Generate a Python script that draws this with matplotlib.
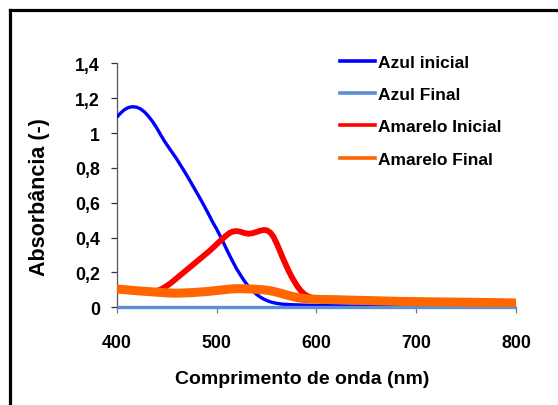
import matplotlib
matplotlib.use("Agg")
import matplotlib.pyplot as plt
from matplotlib.lines import Line2D

plt.rcParams['font.family'] = ['Liberation Sans', 'DejaVu Sans']
plt.rcParams['font.weight'] = 'bold'

# Azul inicial
azul_ini_x = [400, 404, 408, 412, 416, 420, 424, 428, 432, 436, 440, 444, 448, 452, 456, 460, 464, 468,
              472, 476, 480, 484, 488, 492, 496, 500, 504, 508, 512, 516, 520, 524, 528, 532, 536, 540,
              544, 548, 552, 556, 560, 566, 575, 590, 600, 650, 700, 800]
azul_ini_y = [1.09, 1.115, 1.135, 1.147, 1.151, 1.148, 1.138, 1.12, 1.095, 1.065, 1.03, 0.99, 0.952,
              0.918, 0.885, 0.852, 0.815, 0.778, 0.74, 0.70, 0.66, 0.62, 0.578, 0.535, 0.49, 0.45,
              0.405, 0.358, 0.31, 0.265, 0.222, 0.185, 0.15, 0.12, 0.095, 0.075, 0.058, 0.045, 0.035,
              0.028, 0.023, 0.018, 0.015, 0.012, 0.010, 0.007, 0.005, 0.003]

# Azul Final
azul_fin_x = [400, 500, 600, 700, 800]
azul_fin_y = [0.0, 0.0, 0.0, 0.0, 0.0]

# Amarelo Inicial
amar_ini_x = [400, 420, 436, 442, 446, 450, 454, 458, 462, 466, 470, 474, 478, 482, 486, 490, 494, 498,
              502, 506, 510, 513, 516, 519, 522, 525, 528, 532, 536, 540, 544, 548, 551, 554, 557, 560,
              563, 566, 569, 572, 575, 578, 581, 584, 588, 592, 596, 600, 620, 650, 700, 750, 800]
amar_ini_y = [0.10, 0.092, 0.09, 0.097, 0.108, 0.122, 0.138, 0.157, 0.176, 0.195, 0.214, 0.233, 0.252,
              0.271, 0.29, 0.309, 0.329, 0.35, 0.372, 0.393, 0.413, 0.426, 0.434, 0.437, 0.436, 0.432,
              0.426, 0.422, 0.425, 0.432, 0.44, 0.444, 0.44, 0.428, 0.405, 0.37, 0.33, 0.288, 0.25,
              0.212, 0.178, 0.148, 0.12, 0.098, 0.075, 0.062, 0.055, 0.05, 0.043, 0.038, 0.033, 0.029,
              0.025]

# Amarelo Final
amar_fin_x = [400, 410, 420, 430, 440, 450, 458, 466, 474, 482, 490, 498, 506, 514, 522, 530, 538, 546,
              552, 558, 564, 570, 576, 582, 588, 594, 605, 617, 635, 650, 683, 720, 750, 800]
amar_fin_y = [0.105, 0.1, 0.095, 0.091, 0.087, 0.083, 0.081, 0.082, 0.084, 0.087, 0.09, 0.095, 0.1,
              0.105, 0.107, 0.106, 0.104, 0.101, 0.097, 0.09, 0.081, 0.071, 0.062, 0.054, 0.05, 0.047,
              0.045, 0.044, 0.041, 0.039, 0.034, 0.031, 0.029, 0.025]

labels = ['Azul inicial', 'Azul Final', 'Amarelo Inicial', 'Amarelo Final']
colors = ['#0000ff', '#5b8fd6', '#ff0000', '#ff6600']
x_ticks = [400, 500, 600, 700, 800]
y_ticks = [0, 0.2, 0.4, 0.6, 0.8, 1.0, 1.2, 1.4]
y_ticklabels = ['0', '0,2', '0,4', '0,6', '0,8', '1', '1,2', '1,4']

W, H = 558, 406
fig = plt.figure(figsize=(W / 100, H / 100), dpi=100)
ax = fig.add_axes([116.7 / W, 1 - 308.3 / H, (516 - 116.7) / W, (308.3 - 64.3) / H])

kw = dict(solid_joinstyle='round', solid_capstyle='butt')
ax.plot(azul_ini_x, azul_ini_y, color=colors[0], lw=2.4, zorder=3, **kw)
ax.plot(azul_fin_x, azul_fin_y, color=colors[1], lw=2.4, zorder=4, clip_on=False, **kw)
ax.plot(amar_ini_x, amar_ini_y, color=colors[2], lw=4.2, zorder=5, **kw)
ax.plot(amar_fin_x, amar_fin_y, color=colors[3], lw=6.5, zorder=6, **kw)

ax.set_xlim(400, 800)
ax.set_ylim(0, 1.4)
ax.set_xticks(x_ticks)
ax.set_xticklabels([str(t) for t in x_ticks])
ax.set_yticks(y_ticks)
ax.set_yticklabels(y_ticklabels)

for s in ['top', 'right']:
    ax.spines[s].set_visible(False)
for s in ['left', 'bottom']:
    ax.spines[s].set_color('#555555')
    ax.spines[s].set_linewidth(0.9)

ax.tick_params(axis='x', direction='out', length=4, width=0.9, color='#777777', pad=15.5, labelsize=12.8)
ax.tick_params(axis='y', direction='out', length=4.5, width=0.9, color='#333333', pad=7.5, labelsize=12.8)
for t in ax.get_xticklabels() + ax.get_yticklabels():
    t.set_fontweight('bold')

fig.text(302 / W, 1 - 380 / H, 'Comprimento de onda (nm)', ha='center', va='center',
         fontsize=14, fontweight='bold')
fig.text(40 / W, 1 - 197 / H, 'Absorbância (-)', ha='center', va='center', rotation=90,
         fontsize=15.5, fontweight='bold')

handles = [Line2D([0], [0], color=c, lw=2.6) for c in colors]
fig.legend(handles, labels, loc='upper left', bbox_to_anchor=(340 / W, 1 - 56 / H),
           frameon=False, handlelength=2.03, handletextpad=0.15,
           labelspacing=0.98, borderpad=0, borderaxespad=0,
           prop={'weight': 'bold', 'size': 12.5})

# outer frame (left and top edges visible)
fig.add_artist(Line2D([9.5 / W, 9.5 / W], [0, 1 - 10.5 / H], color='black', lw=2.3,
                      transform=fig.transFigure, solid_capstyle='projecting'))
fig.add_artist(Line2D([9.5 / W, 1], [1 - 10.5 / H, 1 - 10.5 / H], color='black', lw=2.3,
                      transform=fig.transFigure, solid_capstyle='projecting'))

fig.savefig('out.png', dpi=100)
